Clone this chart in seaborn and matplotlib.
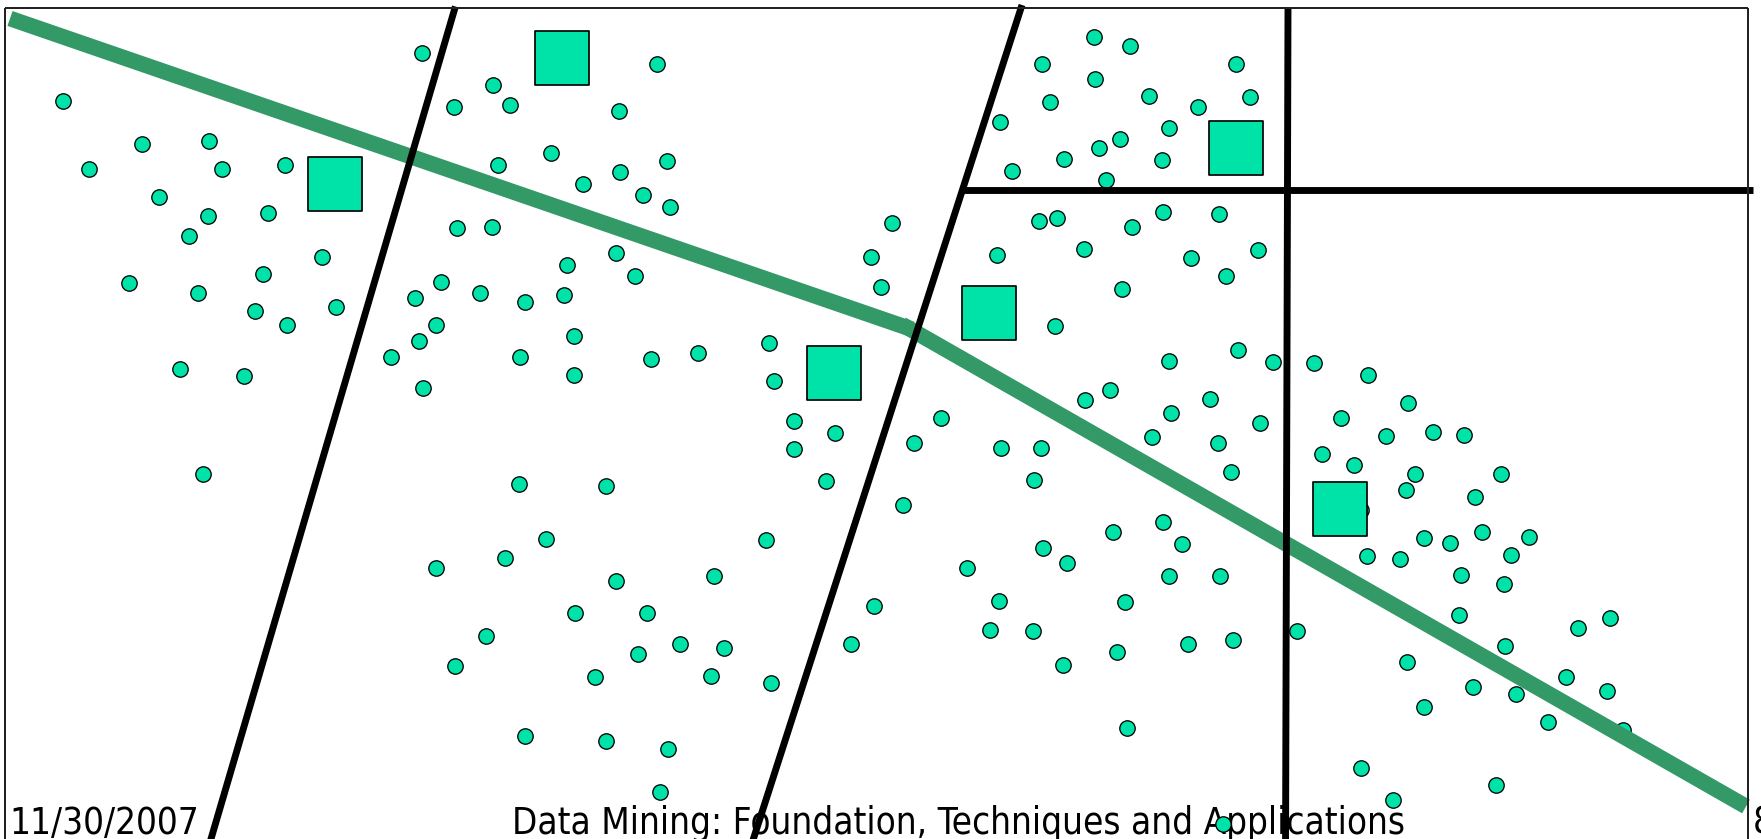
import matplotlib
matplotlib.use("Agg")
import matplotlib.pyplot as plt
import seaborn as sns
import pandas as pd

# ---- data (slide coordinates, origin top-left) ----
circle_x = [
    63, 142, 209, 89, 222, 285, 159, 208, 268, 189, 322, 129, 198, 263, 255, 287, 336, 180, 244, 203,
    422, 493, 454, 510, 551, 498, 583, 457, 492, 567, 441, 415, 480, 525, 564, 436, 419, 391, 520, 574, 574, 423,
    657, 619, 667, 620, 643, 670, 616, 635, 651, 698, 769, 774, 794, 835, 794, 826, 892, 871, 881,
    519, 546, 505, 436, 575, 486, 455, 595, 525, 606, 606, 766, 616, 714, 647, 680, 638, 724, 711, 771, 668, 660,
    1094, 1130, 1042, 1095, 1149, 1050, 1000, 1169, 1120, 1099, 1064, 1162, 1012, 1106, 1236, 1250, 1198,
    1039, 1057, 1163, 1132, 997, 1084, 1122, 1055, 1169, 1110, 1085, 941, 1171, 1219, 1191, 1258, 1226, 1238,
    1273, 1314, 1368, 1408, 1210, 1260, 1341,
    914, 1001, 1041, 1034, 1152, 903, 874, 851, 967, 1043, 1067, 1113, 1163, 1182, 1169, 999, 1125, 990, 1033,
    1063, 1117, 1127, 1218, 1231, 1220, 1188, 1233, 1297,
    1322, 1354, 1386, 1433, 1464, 1415, 1406, 1501, 1475, 1424, 1450, 1482, 1529, 1367, 1400, 1511, 1461, 1504,
    1459, 1578, 1610, 1505, 1407, 1473, 1516, 1566, 1607, 1424, 1548, 1361, 1496, 1393, 1223,
]
circle_y = [
    101, 144, 141, 169, 169, 165, 197, 216, 213, 236, 257, 283, 293, 274, 311, 325, 307, 369, 376, 474,
    53, 85, 107, 105, 153, 165, 184, 228, 227, 265, 282, 298, 293, 302, 295, 325, 341, 357, 357, 336, 375, 388,
    64, 111, 161, 172, 195, 207, 253, 276, 359, 353, 343, 381, 421, 433, 449, 481, 223, 257, 287,
    484, 539, 558, 568, 613, 636, 666, 677, 736, 741, 486, 540, 581, 576, 613, 644, 654, 648, 676, 683, 749, 792,
    37, 46, 64, 79, 96, 102, 122, 128, 139, 148, 159, 160, 171, 180, 64, 97, 107,
    221, 218, 212, 227, 255, 249, 289, 326, 361, 390, 400, 418, 413, 214, 258, 250, 276, 350,
    362, 363, 375, 403, 399, 423, 418,
    443, 448, 448, 480, 437, 505, 606, 644, 568, 548, 563, 532, 522, 544, 576, 601, 602, 630, 631,
    665, 652, 728, 443, 472, 576, 644, 640, 631,
    454, 465, 436, 432, 435, 474, 490, 474, 497, 538, 543, 532, 537, 556, 559, 555, 575, 584,
    615, 628, 618, 646, 662, 687, 694, 677, 691, 707, 722, 768, 785, 800, 824,
]
# points partly covered by the other shapes
hidden_x = [1361, 1623]
hidden_y = [510, 730]

# cluster centres
centre_x = [335, 562, 834, 989, 1236, 1340]
centre_y = [184, 58, 373, 313, 148, 509]

# split line (two straight pieces)
split1_x = [10, 912]
split1_y = [18.5, 329.3]
split2_x = [902, 1746]
split2_y = [324.5, 806.5]

# partition lines
part_a_x, part_a_y = [455.4, 204.8], [6.5, 860]
part_b_x, part_b_y = [1022, 746.6], [5, 860]
part_c_x, part_c_y = [962, 1753], [190, 190]
part_d_x, part_d_y = [1288, 1285.5], [7, 860]

footer_date = "11/30/2007"
footer_title = "Data Mining: Foundation, Techniques and Applications"
footer_page = "8"

# ---- drawing ----
W, H, DPI = 1761, 839, 100
PT = 72 / DPI  # points per pixel

sns.set_style("white")
plt.rcParams["font.family"] = ["DejaVu Sans"]

fig = plt.figure(figsize=(W / DPI, H / DPI), dpi=DPI)
ax = fig.add_axes([0, 0, 1, 1])

fill = "#00E3A8"
green = "#339966"

pts = pd.DataFrame({"x": circle_x, "y": circle_y})
hid = pd.DataFrame({"x": hidden_x, "y": hidden_y})
ctr = pd.DataFrame({"x": centre_x, "y": centre_y})

circle_s = (15.4 * PT) ** 2
square_s = (53.3 * PT) ** 2

sns.scatterplot(data=hid, x="x", y="y", ax=ax, marker="o", s=circle_s, color=fill,
                edgecolor="black", linewidth=1.3 * PT, zorder=2, legend=False)

for xs, ys in [(split1_x, split1_y), (split2_x, split2_y)]:
    sns.lineplot(x=xs, y=ys, ax=ax, sort=False, estimator=None, color=green,
                 linewidth=15.7 * PT, solid_capstyle="butt", zorder=3)

sns.scatterplot(data=pts, x="x", y="y", ax=ax, marker="o", s=circle_s, color=fill,
                edgecolor="black", linewidth=1.3 * PT, zorder=4, legend=False)
sns.scatterplot(data=ctr, x="x", y="y", ax=ax, marker="s", s=square_s, color=fill,
                edgecolor="black", linewidth=1.7 * PT, zorder=5, legend=False)

for xs, ys in [(part_a_x, part_a_y), (part_b_x, part_b_y),
               (part_c_x, part_c_y), (part_d_x, part_d_y)]:
    sns.lineplot(x=xs, y=ys, ax=ax, sort=False, estimator=None, color="black",
                 linewidth=6.9 * PT, solid_capstyle="butt", zorder=6)

# slide frame
for xs, ys in [([4.6, 1748], [8.3, 8.3]), ([4.6, 4.6], [8.3, 900]), ([1748, 1748], [8.3, 900])]:
    ax.plot(xs, ys, color="#222222", linewidth=2.0 * PT, zorder=6, solid_capstyle="butt")

# footer
tkw = dict(va="baseline", ha="left", color="black", zorder=1, fontstretch="condensed")
title = ax.text(511.7, 834, footer_title, fontsize=26, **tkw)
date = ax.text(9.6, 834, footer_date, fontsize=26, **tkw)
page = ax.text(1753, 834, footer_page, fontsize=26, **tkw)

ax.set_xlim(0, W)
ax.set_ylim(H, 0)
ax.axis("off")

renderer = fig.canvas.get_renderer()
for _ in range(3):
    w = title.get_window_extent(renderer).width
    title.set_fontsize(title.get_fontsize() * 892 / w)
for t in (date, page):
    t.set_fontsize(title.get_fontsize())

fig.savefig("out.png", dpi=DPI)
